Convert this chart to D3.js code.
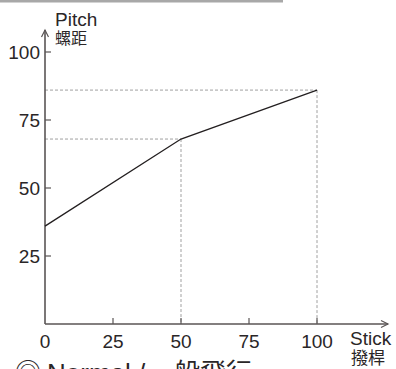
<!DOCTYPE html>
<html>
<head>
<meta charset="utf-8">
<script src="https://cdn.jsdelivr.net/npm/d3@7"></script>
<style>
  body { margin: 0; background: #fff; }
  svg { display: block; font-family: "Liberation Sans", "Noto Sans CJK JP", sans-serif; }
</style>
</head>
<body>
<div id="chart"></div>
<script>
// curve points: stick position -> pitch
const stick = [0, 50, 100];
const pitch = [36, 68, 86];
const xTicks = [0, 25, 50, 75, 100];
const yTicks = [25, 50, 75, 100];
const guidePoints = [1, 2]; // indexes of points that get dashed guides

const width = 396, height = 369;
const svg = d3.select("#chart").append("svg")
    .attr("width", width)
    .attr("height", height);

const x = d3.scaleLinear().domain([0, 100]).range([45, 317]);
const y = d3.scaleLinear().domain([0, 100]).range([324, 52]);

const axisColor = "#5a5555";
const textColor = "#2a2627";

// top rule
svg.append("rect")
    .attr("x", 0).attr("y", 0)
    .attr("width", 283).attr("height", 2.5)
    .attr("fill", "#a8a8a8");

// dashed guides
guidePoints.forEach(i => {
    svg.append("line")
        .attr("x1", x(0)).attr("x2", x(stick[i]))
        .attr("y1", y(pitch[i])).attr("y2", y(pitch[i]))
        .style("stroke", "#a0a0a0")
        .style("stroke-width", 1)
        .style("stroke-dasharray", "3,2");
    svg.append("line")
        .attr("x1", x(stick[i])).attr("x2", x(stick[i]))
        .attr("y1", y(pitch[i])).attr("y2", y(0))
        .style("stroke", "#a0a0a0")
        .style("stroke-width", 1)
        .style("stroke-dasharray", "3,2");
});

// axes lines with arrows
svg.append("line")
    .attr("x1", x(0)).attr("x2", 388)
    .attr("y1", y(0)).attr("y2", y(0))
    .style("stroke", axisColor).style("stroke-width", 1.6);
svg.append("path")
    .attr("d", `M381,${y(0) - 3.5} L388,${y(0)} L381,${y(0) + 3.5}`)
    .style("fill", "none").style("stroke", axisColor).style("stroke-width", 1.2);

svg.append("line")
    .attr("x1", x(0)).attr("x2", x(0))
    .attr("y1", y(0)).attr("y2", 30)
    .style("stroke", axisColor).style("stroke-width", 1.6);
svg.append("path")
    .attr("d", `M${x(0) - 3.5},37 L${x(0)},30 L${x(0) + 3.5},37`)
    .style("fill", "none").style("stroke", axisColor).style("stroke-width", 1.2);

// ticks
svg.selectAll(".xtick")
    .data(xTicks.filter(d => d > 0))
    .enter().append("line")
    .attr("x1", d => x(d)).attr("x2", d => x(d))
    .attr("y1", y(0)).attr("y2", y(0) - 6)
    .style("stroke", axisColor).style("stroke-width", 1.2);

svg.selectAll(".ytick")
    .data(yTicks)
    .enter().append("line")
    .attr("x1", x(0)).attr("x2", x(0) + 6)
    .attr("y1", d => y(d)).attr("y2", d => y(d))
    .style("stroke", axisColor).style("stroke-width", 1.2);

// tick labels
svg.selectAll(".xlabel")
    .data(xTicks)
    .enter().append("text")
    .attr("x", d => x(d))
    .attr("y", 348)
    .attr("text-anchor", "middle")
    .style("font-size", "19px")
    .style("fill", textColor)
    .text(d => d);

svg.selectAll(".ylabel")
    .data(yTicks)
    .enter().append("text")
    .attr("x", 40)
    .attr("y", d => y(d) + 7)
    .attr("text-anchor", "end")
    .style("font-size", "19px")
    .style("fill", textColor)
    .text(d => d);

// axis titles
svg.append("text").attr("x", 55).attr("y", 26)
    .style("font-size", "19px").style("fill", textColor).text("Pitch");
svg.append("text").attr("x", 55).attr("y", 44)
    .style("font-size", "16px").style("fill", textColor).text("螺距");
svg.append("text").attr("x", 350).attr("y", 345)
    .style("font-size", "19px").style("fill", textColor).text("Stick");
svg.append("text").attr("x", 351).attr("y", 364)
    .style("font-size", "17px").style("fill", textColor).text("撥桿");

// curve
const line = d3.line()
    .x((d, i) => x(stick[i]))
    .y(d => y(d));
svg.append("path")
    .datum(pitch)
    .attr("d", line)
    .style("fill", "none")
    .style("stroke", "#231f20")
    .style("stroke-width", 1.3);

// caption, cropped by the bottom edge as in the reference
const caption = svg.append("text").attr("y", 382)
    .style("font-size", "26px").style("fill", textColor);
caption.append("tspan").attr("x", 15).text("◎");
caption.append("tspan").attr("x", 47).text("Normal /");
caption.append("tspan").attr("x", 148).text("一般飛行");
</script>
</body>
</html>
